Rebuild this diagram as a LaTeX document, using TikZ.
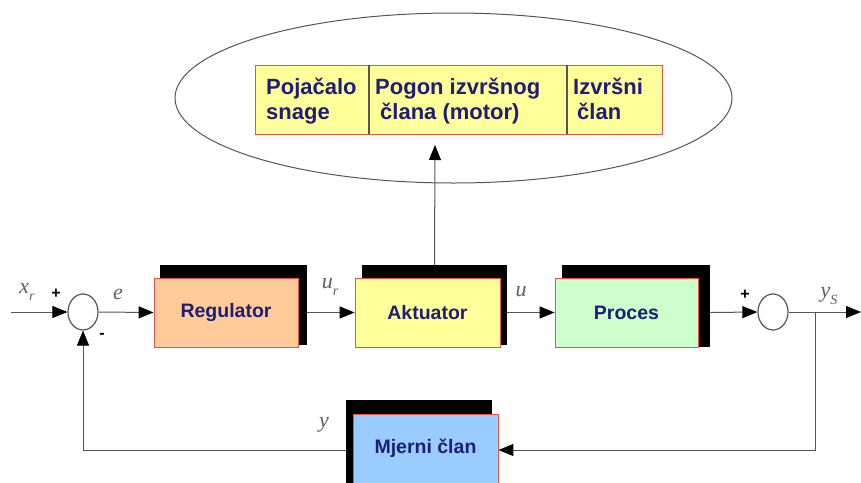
\documentclass[tikz,border=0pt]{standalone}
\usepackage{fontspec}
\setmainfont{Liberation Sans}
\newfontfamily\tms{Liberation Serif}
\usetikzlibrary{arrows.meta,shapes.geometric,calc}
\definecolor{navy}{RGB}{30,30,120}
\definecolor{lgray}{RGB}{85,85,85}
\definecolor{labgray}{RGB}{95,95,95}
\definecolor{bred}{RGB}{240,80,70}
\definecolor{peach}{RGB}{255,204,153}
\definecolor{lyellow}{RGB}{255,255,153}
\definecolor{lgreen}{RGB}{204,255,204}
\definecolor{lblue}{RGB}{153,204,255}
\tikzset{
  shadowbox/.style={rectangle,fill=black,inner sep=0pt},
  blockbox/.style={rectangle,draw=bred,line width=0.9pt,inner sep=0pt,
    font=\fontsize{19.5}{22}\selectfont\bfseries,text=navy},
  sumnode/.style={ellipse,draw=lgray,line width=1.2pt,fill=white,minimum width=30pt,minimum height=36pt,inner sep=0pt},
  conn/.style={draw=lgray,line width=1pt,-{Triangle[length=15pt,width=12pt,color=black]}},
  mlabel/.style={text=labgray,font=\tms\itshape\fontsize{22}{22}\selectfont,inner sep=0pt},
  signlabel/.style={text=black,font=\fontsize{16}{16}\selectfont\bfseries,inner sep=0pt},
  cell/.style={rectangle,inner sep=0pt,anchor=north west,
    font=\fontsize{22}{25}\selectfont\bfseries,text=navy,align=left}
}
\newcommand{\sbs}[1]{\raisebox{-0.35em}{\fontsize{14}{14}\selectfont #1}}
\begin{document}
\begin{tikzpicture}[x=1pt,y=-1pt]
\useasboundingbox[fill=white] (0,0) rectangle (861,482);
% top ellipse and actuator details
\node[ellipse,draw=lgray,line width=1pt,minimum width=557pt,minimum height=170pt,inner sep=0pt] (ell) at (453.5,98) {};
\coordinate (tbNW) at (255,65);
\coordinate (tbSE) at (662,134);
\coordinate (d1) at (369,65);
\coordinate (d2) at (567,65);
\draw[bred,line width=0.9pt,fill=lyellow] (tbNW) rectangle (tbSE);
\draw[lgray,line width=1.2pt] (d1) -- (d1 |- tbSE);
\draw[lgray,line width=1.2pt] (d2) -- (d2 |- tbSE);
\node[cell] (p1) at (266,77) {Pojačalo\strut\\snage\strut};
\node[cell] (p2) at (375,77) {Pogon izvršnog\strut\\\hspace*{5pt}člana (motor)\strut};
\node[cell] (p3) at (573,77) {Izvršni\strut\\\hspace*{4pt}član\strut};
\coordinate (atip) at (435,145);
% main blocks
\node[shadowbox,minimum width=147pt,minimum height=80pt] (regS) at (233.5,305) {};
\node[blockbox,fill=peach,minimum width=144pt,minimum height=69pt] (reg) at (226,312.5) {Regulator};
\node[shadowbox,minimum width=145pt,minimum height=80pt] (aktS) at (434.5,305) {};
\node[blockbox,fill=lyellow,minimum width=145pt,minimum height=69pt] (akt) at (427.5,312.5) {Aktuator};
\node[shadowbox,minimum width=148pt,minimum height=82pt] (proS) at (636,306) {};
\node[blockbox,fill=lgreen,minimum width=143pt,minimum height=69pt] (pro) at (626.5,312.5) {Proces};
\node[shadowbox,minimum width=146pt,minimum height=90pt] (mjS) at (419,445) {};
\node[blockbox,fill=lblue,minimum width=145pt,minimum height=72pt] (mj) at (425.5,450) {\raisebox{8pt}{Mjerni član}};
% summing junctions
\node[sumnode] (sum1) at (83,312) {};
\node[sumnode] (sum2) at (773,312) {};
\coordinate (in) at (11,312);
\coordinate (out) at (861,312);
\coordinate (br) at (815,312);
% connectors
\draw[conn] (in) -- (sum1.west);
\draw[conn] (sum1.east) -- (reg.west);
\draw[conn] (regS.east |- reg.east) -- (akt.west);
\draw[conn] (aktS.east |- akt.east) -- (pro.west);
\draw[conn] (proS.east |- pro.east) -- (sum2.west);
\draw[conn] (sum2.east) -- (out);
\draw[conn] (br) |- (mj.east);
\draw[conn] (mjS.west |- mj.east) -| (sum1.south);
\draw[conn] (aktS.north) -- (atip);
% labels
\node[mlabel] (lxr) at (27,292) {x\sbs{r}};
\node[signlabel] (lp1) at (56,294) {+};
\node[signlabel] (lm1) at (102,336) {-};
\node[mlabel] (le) at (118,294) {e};
\node[mlabel] (lur) at (330,287) {u\sbs{r}};
\node[mlabel] (lu) at (521,292) {u};
\node[signlabel] (lp2) at (745,295) {+};
\node[mlabel] (lys) at (829,296) {y\sbs{S}};
\node[mlabel] (ly) at (324,425) {y};
\end{tikzpicture}
\end{document}
